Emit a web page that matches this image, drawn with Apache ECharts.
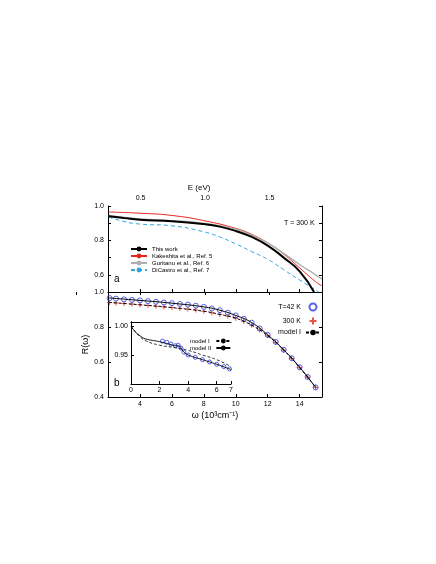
<!DOCTYPE html>
<html>
<head>
<meta charset="utf-8">
<script src="https://cdn.jsdelivr.net/npm/echarts@6/dist/echarts.min.js"></script>
<style>html,body{margin:0;background:#fff}#c{width:436px;height:564px}</style>
</head>
<body>
<div id="c"></div>
<script>
// panel a, omega in 10^3 cm^-1
const thisWork = [[2.05,0.94],[3,0.93],[4,0.92],[6,0.912],[8,0.895],[9,0.88],[10,0.855],[11,0.82],[12,0.77],[13,0.70],[14,0.62],[14.9,0.5]]
const kakeshita = [[2.05,0.965],[4,0.958],[6,0.945],[8,0.915],[10,0.87],[11,0.835],[12,0.785],[13,0.72],[14,0.64],[15,0.56],[15.4,0.535]]
const guritanu = [[2.05,0.945],[4,0.925],[6,0.915],[8,0.9],[10,0.865],[11,0.83],[12,0.785],[13,0.725],[14,0.66],[15,0.6],[15.4,0.575]]
const dicastro = [[2.05,0.935],[3,0.91],[4,0.895],[6,0.885],[8,0.85],[9,0.82],[10,0.78],[11,0.735],[12,0.69],[13,0.63],[14,0.57],[15.2,0.5]]
// panel b
const t42 = [[2.1,0.965],[2.5,0.962],[3,0.958],[3.5,0.955],[4,0.952],[4.5,0.948],[5,0.944],[5.5,0.94],[6,0.936],[6.5,0.932],[7,0.928],[7.5,0.922],[8,0.915],[8.5,0.906],[9,0.896],[9.5,0.882],[10,0.866],[10.5,0.847],[11,0.825],[11.5,0.792],[12,0.755],[12.5,0.715],[13,0.67],[13.5,0.622],[14,0.57],[14.5,0.515],[15,0.455]]
const t300 = [[2.1,0.94],[2.5,0.937],[3,0.934],[3.5,0.931],[4,0.927],[4.5,0.923],[5,0.919],[5.5,0.915],[6,0.911],[6.5,0.907],[7,0.902],[7.5,0.897],[8,0.89],[8.5,0.881],[9,0.872],[9.5,0.862],[10,0.85],[10.5,0.832],[11,0.81],[11.5,0.782],[12,0.75],[12.5,0.712],[13,0.668],[13.5,0.62],[14,0.568],[14.5,0.513],[15,0.455]]
const fit42 = [[2.05,0.966],[4,0.952],[6,0.936],[8,0.915],[9,0.896],[10,0.866],[11,0.825],[12,0.755],[13,0.67],[14,0.57],[15,0.455]]
const fit300 = [[2.05,0.941],[4,0.927],[6,0.911],[8,0.89],[9,0.872],[10,0.85],[11,0.81],[12,0.75],[13,0.668],[14,0.568],[15,0.455]]
// inset
const insetData = [[2.2,0.974],[2.5,0.972],[2.8,0.969],[3.1,0.966],[3.3,0.967],[3.5,0.962],[3.7,0.955],[4,0.95],[4.5,0.946],[5,0.942],[5.5,0.938],[6,0.934],[6.5,0.93],[6.9,0.926]]
const modelII = [[0,1.0],[0.3,0.99],[0.7,0.982],[1,0.978],[2,0.973],[2.8,0.968],[3.1,0.966],[3.3,0.966],[3.7,0.955],[4,0.95],[5,0.942],[6,0.934],[7,0.925]]
const modelI = [[0,1.0],[0.5,0.985],[1,0.975],[2,0.967],[3,0.963],[4,0.958],[5,0.95],[6,0.942],[7,0.93]]

const F = 'Liberation Sans'
const chart = echarts.init(document.getElementById('c'))
const ax = (o) => Object.assign({
  type: 'value', axisLine: {show: true, lineStyle: {color: '#000'}},
  axisTick: {inside: true, length: 3, lineStyle: {color: '#000'}},
  axisLabel: {color: '#000', fontSize: 7, fontFamily: F, margin: 4},
  splitLine: {show: false}
}, o)
const noLab = {show: false}
const line = (name, data, xi, yi, color, w, dash) => ({
  name, type: 'line', data, xAxisIndex: xi, yAxisIndex: yi, symbol: 'none', smooth: true,
  lineStyle: {color, width: w, type: dash || 'solid'}, itemStyle: {color}
})
const L = 108, W = 214
chart.setOption({
  animation: false,
  grid: [
    {left: L, width: W, top: 206, height: 86},
    {left: L, width: W, top: 292, height: 105},
    {left: L - 0.248 * 129, width: 1.909 * 129, top: 206, height: 86},
    {left: 131, width: 100, top: 322, height: 62, backgroundColor: '#fff', show: true, borderWidth: 0}
  ],
  xAxis: [
    ax({gridIndex: 0, min: 2, max: 15.4, interval: 2, axisLabel: noLab}),
    ax({gridIndex: 1, min: 2, max: 15.4, interval: 2, name: 'ω (10³cm⁻¹)', nameLocation: 'middle', nameGap: 14,
      nameTextStyle: {fontSize: 9, fontFamily: F, color: '#000'},
      axisLabel: {color: '#000', fontSize: 7, fontFamily: F, margin: 4, formatter: v => (v === 2 || v > 15) ? '' : v}}),
    ax({gridIndex: 2, min: 0, max: 1.909, interval: 0.5, position: 'top', axisLine: {show: false},
      name: 'E (eV)', nameLocation: 'middle', nameGap: 14, nameTextStyle: {fontSize: 8, fontFamily: F, color: '#000'},
      axisLabel: {color: '#000', fontSize: 7, fontFamily: F, margin: 4, formatter: v => (v === 0 || v > 1.6) ? '' : v.toFixed(1)}}),
    ax({gridIndex: 3, min: 0, max: 7, interval: 2, axisLabel: {color: '#000', fontSize: 7, fontFamily: F, margin: 3}}),
    ax({gridIndex: 3, min: 0, max: 7, position: 'top', axisTick: {show: false}, axisLabel: noLab})
  ],
  yAxis: [
    ax({gridIndex: 0, min: 0.5, max: 1.0, interval: 0.1, axisLabel: {color: '#000', fontSize: 7, fontFamily: F, margin: 4,
      formatter: v => [0.6, 0.8, 1].includes(+v.toFixed(1)) ? v.toFixed(1) : ''}}),
    ax({gridIndex: 0, min: 0.5, max: 1.0, interval: 0.1, position: 'right', axisLabel: noLab}),
    ax({gridIndex: 1, min: 0.4, max: 1.0, interval: 0.2, name: 'R(ω)', nameLocation: 'middle', nameGap: 18,
      nameTextStyle: {fontSize: 9, fontFamily: F, color: '#000'},
      axisLabel: {color: '#000', fontSize: 7, fontFamily: F, margin: 4, formatter: v => v.toFixed(1)}}),
    ax({gridIndex: 1, min: 0.4, max: 1.0, interval: 0.2, position: 'right', axisLabel: noLab}),
    ax({gridIndex: 3, min: 0.9, max: 1.007, interval: 0.05, axisLabel: {color: '#000', fontSize: 7, fontFamily: F, margin: 3, formatter: v => v < 0.92 ? '' : v.toFixed(2)}}),
    ax({gridIndex: 3, min: 0.9, max: 1.007, position: 'right', axisTick: {show: false}, axisLabel: noLab}),
    ax({gridIndex: 2, min: 0, max: 1, show: false})
  ],
  legend: [
    {left: 125, top: 241, orient: 'vertical', itemGap: 1, itemWidth: 16, itemHeight: 6,
      textStyle: {fontSize: 6, fontFamily: F, color: '#000'},
      data: ['This work', 'Kakeshita et al., Ref. 5', 'Guritanu et al., Ref. 6', 'DiCastro et al., Ref. 7']},
    {right: 110, top: 296, orient: 'vertical', itemGap: 2, itemWidth: 14, itemHeight: 7, align: 'right',
      textStyle: {fontSize: 7, fontFamily: F, color: '#000'},
      data: ['T=42 K', '300 K', 'model I']},
    {left: 185, top: 333, orient: 'vertical', itemGap: 1, itemWidth: 14, itemHeight: 6, align: 'right',
      textStyle: {fontSize: 6, fontFamily: F, color: '#000'}, data: ['model I ', 'model II']}
  ],
  series: [
    line('Kakeshita et al., Ref. 5', kakeshita, 0, 0, '#e8261f', 1),
    line('Guritanu et al., Ref. 6', guritanu, 0, 0, '#b0b0b0', 1.4),
    line('DiCastro et al., Ref. 7', dicastro, 0, 0, '#2aa6e0', 1, [4, 3]),
    line('This work', thisWork, 0, 0, '#000', 2),
    {name: '300 K', type: 'scatter', data: t300, xAxisIndex: 1, yAxisIndex: 2, symbol: 'path://M0,5H10M5,0V10',
      symbolSize: 5, itemStyle: {color: 'none', borderColor: '#e8261f', borderWidth: 1}},
    {name: 'T=42 K', type: 'scatter', data: t42, xAxisIndex: 1, yAxisIndex: 2, symbol: 'circle', symbolSize: 5,
      itemStyle: {color: 'none', borderColor: '#2b3ee8', borderWidth: 1}},
    line('fit42', fit42, 1, 2, '#000', 1),
    line('model I', fit300, 1, 2, '#000', 1, [3, 2]),
    {name: 'inset', type: 'scatter', data: insetData, xAxisIndex: 3, yAxisIndex: 4, symbol: 'circle', symbolSize: 4,
      itemStyle: {color: 'none', borderColor: '#2b3ee8', borderWidth: 1}},
    line('model I ', modelI, 3, 4, '#000', 0.8, [3, 2]),
    line('model II', modelII, 3, 4, '#000', 0.9)
  ],
  graphic: [
    {type: 'text', left: 284, top: 220, style: {text: 'T = 300 K', fontSize: 7, fontFamily: F, fill: '#000'}},
    {type: 'text', left: 114, top: 274, style: {text: 'a', fontSize: 10, fontFamily: F, fill: '#000'}},
    {type: 'text', left: 114, top: 378, style: {text: 'b', fontSize: 10, fontFamily: F, fill: '#000'}}
  ]
})
</script>
</body>
</html>
